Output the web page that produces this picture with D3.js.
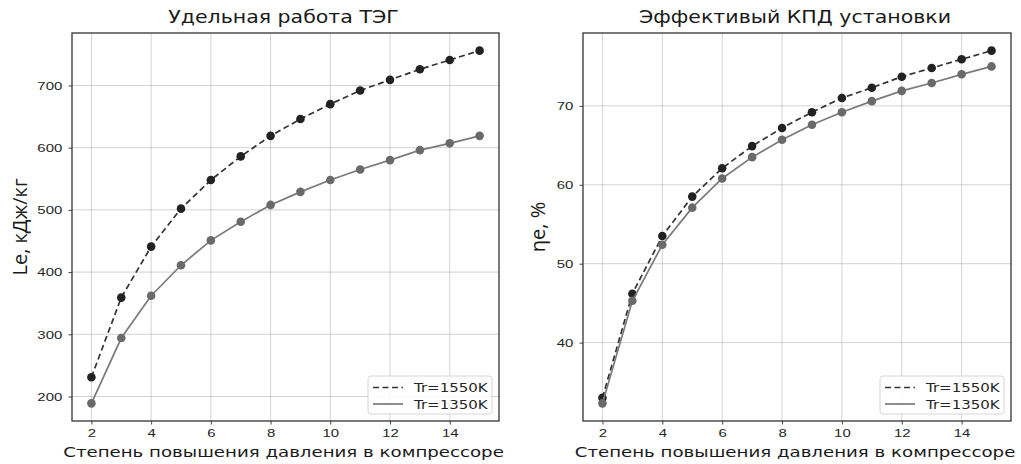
<!DOCTYPE html>
<html>
<head>
<meta charset="utf-8">
<script src="https://cdn.jsdelivr.net/npm/d3@7"></script>
<style>
  body { margin: 0; background: #fff; }
  svg { display: block; font-family: "DejaVu Sans", sans-serif; }
  .grid line { stroke: #b0b0b0; stroke-width: 0.8; stroke-opacity: 0.7; }
  .tick text { fill: #262626; font-size: 11.5px; }
</style>
</head>
<body>
<svg id="chart" width="1021" height="464"></svg>
<script>
(function () {
  "use strict";

  const ratio = [2, 3, 4, 5, 6, 7, 8, 9, 10, 11, 12, 13, 14, 15];
  const xTicks = [2, 4, 6, 8, 10, 12, 14];

  // удельная работа, кДж/кг
  const work1550 = [231, 359, 441, 502, 548, 586, 619, 646, 670, 692, 709, 726, 741, 756];
  const work1350 = [189, 294, 362, 411, 451, 481, 508, 529, 548, 565, 580, 596, 607, 619];
  const workTicks = [200, 300, 400, 500, 600, 700];

  // КПД, %
  const eff1550 = [33.0, 46.2, 53.5, 58.5, 62.1, 64.9, 67.2, 69.2, 71.0, 72.3, 73.7, 74.8, 75.9, 77.0];
  const eff1350 = [32.3, 45.3, 52.4, 57.1, 60.8, 63.5, 65.7, 67.6, 69.2, 70.6, 71.9, 72.9, 74.0, 75.0];
  const effTicks = [40, 50, 60, 70];

  const legendNames = ["Tr=1550K", "Tr=1350K"];

  // the source image is stretched sideways, text included
  const SX = 1.3;

  const svg = d3.select("#chart");

  function padded(lo, hi) {
    const m = (hi - lo) * 0.05;
    return [lo - m, hi + m];
  }

  // text placed at (x,y), scaled horizontally around its anchor
  function wideText(parent, x, y, sx) {
    return parent.append("g")
      .attr("transform", `translate(${x},${y}) scale(${sx},1)`)
      .append("text");
  }

  function panel(opts) {
    const { left, right, top, bottom } = opts;
    const g = svg.append("g");

    const x = d3.scaleLinear().domain(padded(d3.min(ratio), d3.max(ratio))).range([left, right]);
    const all = opts.series[0].concat(opts.series[1]);
    const y = d3.scaleLinear().domain(padded(d3.min(all), d3.max(all))).range([bottom, top]);

    // grid
    const grid = g.append("g").attr("class", "grid");
    grid.selectAll("line.gx").data(xTicks).enter().append("line")
      .attr("x1", (d) => x(d)).attr("x2", (d) => x(d))
      .attr("y1", top).attr("y2", bottom);
    grid.selectAll("line.gy").data(opts.yTicks).enter().append("line")
      .attr("x1", left).attr("x2", right)
      .attr("y1", (d) => y(d)).attr("y2", (d) => y(d));

    // axes
    g.append("g")
      .attr("transform", `translate(0,${bottom})`)
      .call(d3.axisBottom(x).tickValues(xTicks).tickSize(3.5).tickPadding(4))
      .call((s) => s.select(".domain").remove())
      .call((s) => s.selectAll(".tick line").attr("stroke", "#444"))
      .call((s) => s.selectAll(".tick text").attr("transform", `scale(${SX},1)`));
    g.append("g")
      .attr("transform", `translate(${left},0)`)
      .call(d3.axisLeft(y).tickValues(opts.yTicks).tickSize(3.5).tickPadding(4))
      .call((s) => s.select(".domain").remove())
      .call((s) => s.selectAll(".tick line").attr("stroke", "#444"))
      .call((s) => s.selectAll(".tick text").attr("transform", `scale(${SX},1)`));

    const line = d3.line().x((d, i) => x(ratio[i])).y((d) => y(d));

    const styles = [
      { stroke: "#333", dash: "6,3.5", dot: "#222" },
      { stroke: "#7a7a7a", dash: null, dot: "#6a6a6a" },
    ];

    opts.series.forEach((vals, k) => {
      const st = styles[k];
      g.append("path")
        .datum(vals)
        .attr("fill", "none")
        .attr("stroke", st.stroke)
        .attr("stroke-width", 1.7)
        .attr("stroke-dasharray", st.dash)
        .attr("d", line);
      g.selectAll(null).data(vals).enter().append("circle")
        .attr("cx", (d, i) => x(ratio[i]))
        .attr("cy", (d) => y(d))
        .attr("r", 4.3)
        .attr("fill", st.dot);
    });

    // frame
    g.append("rect")
      .attr("x", left).attr("y", top)
      .attr("width", right - left).attr("height", bottom - top)
      .attr("fill", "none").attr("stroke", "#333").attr("stroke-width", 1.3);

    // legend
    const lx = right - 131, ly = bottom - 45;
    const lg = g.append("g").attr("transform", `translate(${lx},${ly})`);
    lg.append("rect")
      .attr("width", 124).attr("height", 38).attr("rx", 3)
      .attr("fill", "#fff").attr("fill-opacity", 0.85)
      .attr("stroke", "#d6d6d6");
    legendNames.forEach((name, k) => {
      const st = styles[k];
      const yy = 11.5 + k * 16.5;
      lg.append("line")
        .attr("x1", 5).attr("x2", 35).attr("y1", yy).attr("y2", yy)
        .attr("stroke", st.stroke).attr("stroke-width", 1.7)
        .attr("stroke-dasharray", st.dash);
      wideText(lg, 46, yy + 4.5, 1.2)
        .attr("font-size", 12.5).attr("fill", "#262626")
        .text(name);
    });

    // titles
    wideText(g, (left + right) / 2 - 2, 23, 1.14)
      .attr("text-anchor", "middle")
      .attr("font-size", 18).attr("fill", "#1a1a1a")
      .text(opts.title);
    wideText(g, (left + right) / 2 - 2, 457, SX)
      .attr("text-anchor", "middle")
      .attr("font-size", 14).attr("fill", "#1a1a1a")
      .text("Степень повышения давления в компрессоре");
    g.append("text")
      .attr("transform", `translate(${opts.yLabelX},${(top + bottom) / 2}) rotate(-90)`)
      .attr("text-anchor", "middle")
      .attr("font-family", "'Open Sans', 'Noto Sans', sans-serif")
      .attr("font-size", 20).attr("fill", "#1a1a1a")
      .text(opts.yLabel);
  }

  panel({
    left: 72, right: 499, top: 33, bottom: 421,
    series: [work1550, work1350],
    yTicks: workTicks,
    title: "Удельная работа ТЭГ",
    yLabel: "Le, кДж/кг",
    yLabelX: 27,
  });

  panel({
    left: 583, right: 1011, top: 33, bottom: 421,
    series: [eff1550, eff1350],
    yTicks: effTicks,
    title: "Эффективый КПД установки",
    yLabel: "ηe, %",
    yLabelX: 545,
  });
})();
</script>
</body>
</html>
